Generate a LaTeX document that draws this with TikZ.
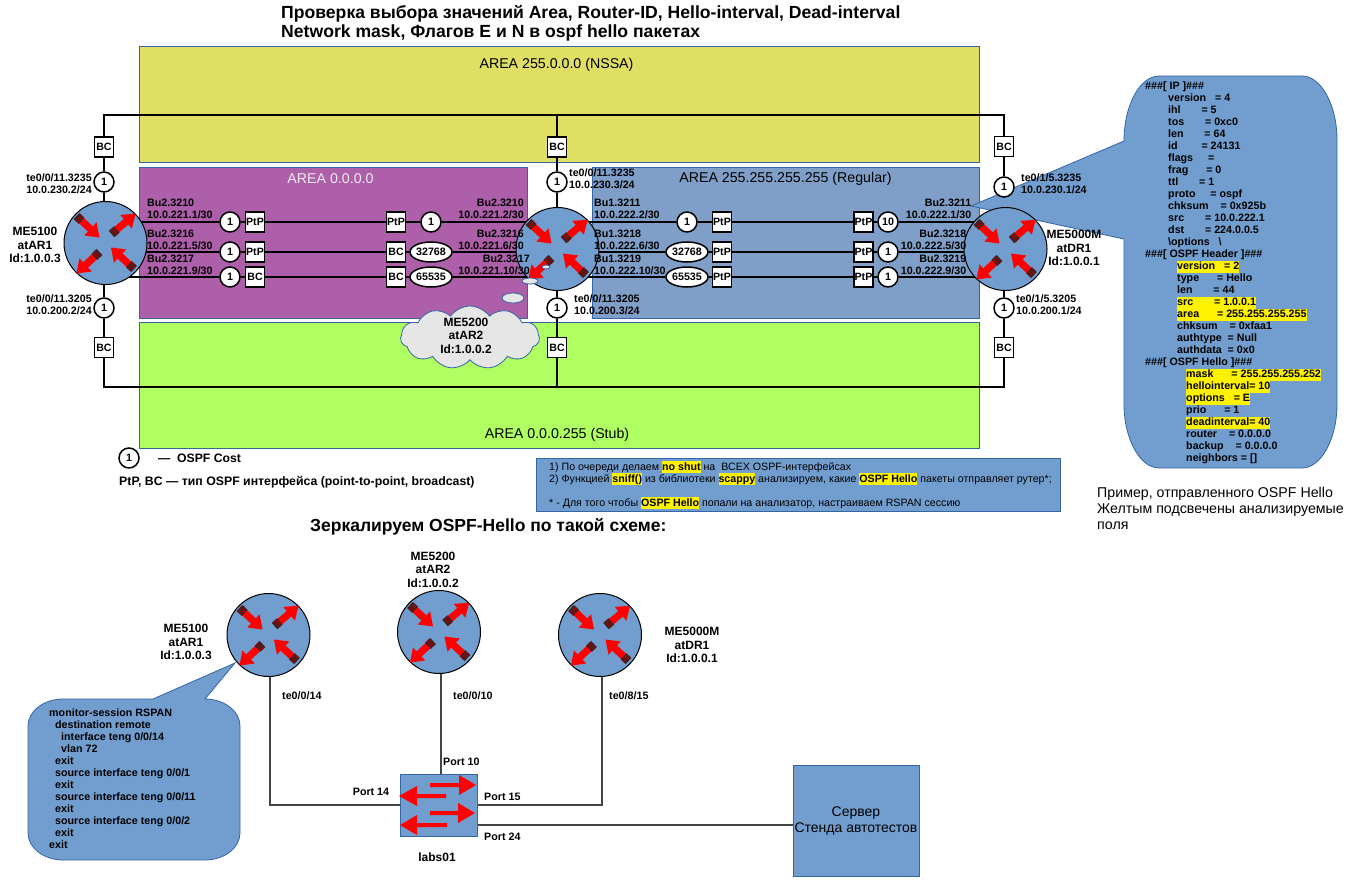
\documentclass[tikz,border=0pt]{standalone}
\usepackage{fontspec}
\setmainfont{Liberation Sans}
\usetikzlibrary{shapes.symbols,shapes.geometric}
\definecolor{nssa}{HTML}{DFDF64}
\definecolor{purp}{HTML}{AD5FA9}
\definecolor{regu}{HTML}{809FC8}
\definecolor{stub}{HTML}{AFFF62}
\definecolor{call}{HTML}{719ECF}
\definecolor{edge}{HTML}{3465A4}
\definecolor{lowl}{HTML}{444444}
\definecolor{cloudf}{HTML}{E6E6E6}
\newcommand\fsz[1]{\fontsize{#1}{12}\selectfont}
\newcommand\hlt[1]{{\setlength{\fboxsep}{0pt}\colorbox{yellow}{\rule[-3pt]{0pt}{12pt}#1}}}
\newcommand\rarrowshape{%
  \fill[red] (6,-3.6)--(19,-3.6)--(19,-9)--(31.5,0)--(19,9)--(19,3.6)--(6,3.6)--cycle;
  \fill[black!85] (0,-4.2) rectangle (7,4.2);
  \draw[red!70!black,line width=.5pt] (1.5,-4.2)--(1.5,4.2) (3,-4.2)--(3,4.2) (4.5,-4.2)--(4.5,4.2) (6,-4.2)--(6,4.2);
}
\tikzset{
  x=1pt,y=-1pt,
  routericon/.pic={
    \begin{scope}[shift={(-29,-27)},rotate=-43]\rarrowshape\end{scope}
    \begin{scope}[shift={(6,-9)},rotate=40]\rarrowshape\end{scope}
    \begin{scope}[shift={(-6,9)},rotate=-137]\rarrowshape\end{scope}
    \begin{scope}[shift={(28.5,26)},rotate=137]\rarrowshape\end{scope}
  },
  areabox/.style={draw=edge,line width=.8pt},
  arealab/.style={font=\fsz{14.2},inner sep=0pt},
  linkline/.style={draw=black,line width=1.3pt},
  lowlink/.style={draw=lowl,line width=1.1pt},
  routerc/.style={circle,draw=black,line width=1pt,fill=call,minimum size=83pt,inner sep=0pt},
  costc/.style={circle,draw=black,line width=1.5pt,fill=white,minimum size=20pt,inner sep=0pt,font=\bfseries\fsz{10.7}},
  costw/.style={ellipse,draw=black,line width=1.5pt,fill=white,minimum width=41pt,minimum height=20pt,inner sep=0pt,font=\bfseries\fsz{10.7}},
  tbox/.style={rectangle,draw=black,line width=1.3pt,fill=white,minimum width=19pt,minimum height=20pt,inner sep=0pt,font=\bfseries\fsz{10.6}},
  lab/.style={font=\bfseries\fsz{10.7},inner sep=0pt,align=left},
  labr/.style={font=\bfseries\fsz{10.7},inner sep=0pt,align=right},
  rname/.style={font=\bfseries\fontsize{12}{13.5}\selectfont,inner sep=0pt,align=center},
  calloutbody/.style={draw=edge,line width=.8pt,fill=call},
  switcharrow/.style={fill=red},
}
\pgfdeclarelayer{bg}
\pgfdeclarelayer{links}
\pgfsetlayers{bg,links,main}
\begin{document}
\begin{tikzpicture}
\useasboundingbox (0,0) rectangle (1359,880);

% ---------- title
\node[anchor=north west,inner sep=0pt,font=\bfseries\fontsize{17.6}{19}\selectfont,align=left] (title) at (281,5)
  {Проверка выбора значений Area, Router-ID, Hello-interval, Dead-interval\\Network mask, Флагов E и N в ospf hello пакетах};

% ---------- areas
\begin{pgfonlayer}{bg}
\fill[white] (0,0) rectangle (1359,880);
\path[areabox,fill=nssa] (139,46) rectangle (979,162);
\path[areabox,fill=purp] (139,167) rectangle (527,318);
\path[areabox,fill=regu] (592,167) rectangle (979,318);
\path[areabox,fill=stub] (139,322) rectangle (979,448);
\end{pgfonlayer}
\node[arealab] (a1) at (556.5,64.5) {AREA 255.0.0.0 (NSSA)};
\node[arealab,text=white!92!black] (a2) at (330.5,179) {AREA 0.0.0.0};
\node[arealab] (a3) at (785.5,179) {AREA 255.255.255.255 (Regular)};
\node[arealab] (a4) at (557,435) {AREA 0.0.0.255 (Stub)};

% ---------- routers
\node[routerc] (r1) at (105.5,243) {};
\node[routerc] (r2) at (557.5,249) {};
\node[routerc] (r3) at (1005.5,249) {};
\pic at (r1) {routericon};
\pic at (r2) {routericon};
\pic at (r3) {routericon};

% ---------- bus coordinates
\coordinate (tl) at (104,115);
\coordinate (tm) at (557,115);
\coordinate (tr) at (1004,115);
\coordinate (bl) at (104,387);
\coordinate (bm) at (557,387);
\coordinate (br) at (1004,387);

% ---------- vertical stacks
\node[tbox] (b1t) at (104,147) {BC};
\node[costc] (k1t) at (104,182) {1};
\node[costc] (k1b) at (104,308) {1};
\node[tbox] (b1b) at (104,347.5) {BC};
\node[tbox] (b2t) at (557,147) {BC};
\node[costc] (k2t) at (557,182) {1};
\node[costc] (k2b) at (557,308) {1};
\node[tbox] (b2b) at (557,347.5) {BC};
\node[tbox] (b3t) at (1004,146.5) {BC};
\node[costc] (k3t) at (1004,187) {1};
\node[costc] (k3b) at (1004,308) {1};
\node[tbox] (b3b) at (1004,347.5) {BC};

% ---------- horizontal link elements R1-R2
\node[costc] (c11) at (230,222) {1};
\node[tbox] (p11) at (255,222) {PtP};
\node[tbox] (p12) at (396,222) {PtP};
\node[costc] (c12) at (431,222) {1};
\node[costc] (c21) at (230,252) {1};
\node[tbox] (p21) at (255,252) {PtP};
\node[tbox] (p22) at (396,252) {BC};
\node[costw] (c22) at (431,252) {32768};
\node[costc] (c31) at (230,277) {1};
\node[tbox] (p31) at (255,277) {BC};
\node[tbox] (p32) at (396,277) {BC};
\node[costw] (c32) at (431,277) {65535};
% R2-R3
\node[costc] (d11) at (687,222) {1};
\node[tbox] (q11) at (722,222) {PtP};
\node[tbox] (q12) at (863.5,222) {PtP};
\node[costc] (d12) at (888,222) {10};
\node[costw] (d21) at (687,252) {32768};
\node[tbox] (q21) at (722,252) {PtP};
\node[tbox] (q22) at (863.5,252) {PtP};
\node[costc] (d22) at (888,252) {1};
\node[costw] (d31) at (687,277) {65535};
\node[tbox] (q31) at (722,277) {PtP};
\node[tbox] (q32) at (863.5,277) {PtP};
\node[costc] (d32) at (888,277) {1};

\begin{pgfonlayer}{links}
\draw[linkline] (b1t) -- (tl) -- (tr) -- (b3t);
\draw[linkline] (tm) -- (b2t);
\draw[linkline] (b1b) -- (bl) -- (br) -- (b3b);
\draw[linkline] (bm) -- (b2b);
\draw[linkline] (b1t) -- (k1t) -- (k1t |- r1.center) -- (k1b) -- (b1b);
\draw[linkline] (b2t) -- (k2t) -- (k2t |- r2.center) -- (k2b) -- (b2b);
\draw[linkline] (b3t) -- (k3t) -- (k3t |- r3.center) -- (k3b) -- (b3b);
\draw[linkline] (r1.center |- c11) -- (c11) -- (p11) -- (p12) -- (c12) -- (r2.center |- c12);
\draw[linkline] (r1.center |- c21) -- (c21) -- (p21) -- (p22) -- (c22) -- (r2.center |- c22);
\draw[linkline] (r1.center |- c31) -- (c31) -- (p31) -- (p32) -- (c32) -- (r2.center |- c32);
\draw[linkline] (r2.center |- d11) -- (d11) -- (q11) -- (q12) -- (d12) -- (r3.center |- d12);
\draw[linkline] (r2.center |- d21) -- (d21) -- (q21) -- (q22) -- (d22) -- (r3.center |- d22);
\draw[linkline] (r2.center |- d31) -- (d31) -- (q31) -- (q32) -- (d32) -- (r3.center |- d32);
% packet callout
\path[calloutbody] (1159,76) -- (1302,76) .. controls (1321,76) and (1337,105) .. (1337,140) -- (1337,404)
  .. controls (1337,439) and (1321,468) .. (1302,468) -- (1159,468)
  .. controls (1140,468) and (1124,439) .. (1124,404) -- (1124,239) -- (971,206) -- (1124,141)
  .. controls (1124,105) and (1140,76) .. (1159,76) -- cycle;
% rspan callout
\path[calloutbody] (63,699) -- (153,699) -- (235,663) -- (205,699)
  .. controls (224,699) and (240,711) .. (240,726) -- (240,833)
  .. controls (240,848) and (224,860) .. (205,860) -- (63,860)
  .. controls (44,860) and (28,848) .. (28,833) -- (28,726)
  .. controls (28,711) and (44,699) .. (63,699) -- cycle;
\end{pgfonlayer}

% ---------- router names
\node[rname] (n1) at (35,245) {ME5100\\atAR1\\Id:1.0.0.3};
\node[rname] (n3) at (1074,248) {ME5000M\\atDR1\\Id:1.0.0.1};

% ---------- interface labels
\node[labr,anchor=east] (i1) at (92,184) {te0/0/11.3235\\10.0.230.2/24};
\node[labr,anchor=east] (i2) at (92,305) {te0/0/11.3205\\10.0.200.2/24};
\node[lab,anchor=west] (i3) at (569,179) {te0/0/11.3235\\10.0.230.3/24};
\node[lab,anchor=west] (i4) at (574,305) {te0/0/11.3205\\10.0.200.3/24};
\node[lab,anchor=west] (i5) at (1021,184) {te0/1/5.3235\\10.0.230.1/24};
\node[lab,anchor=west] (i6) at (1016,305) {te0/1/5.3205\\10.0.200.1/24};

\node[lab,anchor=west] (u11) at (147,209) {Bu2.3210\\10.0.221.1/30};
\node[lab,anchor=west] (u12) at (147,240) {Bu2.3216\\10.0.221.5/30};
\node[lab,anchor=west] (u13) at (147,265) {Bu2.3217\\10.0.221.9/30};
\node[labr,anchor=east] (u21) at (524,209) {Bu2.3210\\10.0.221.2/30};
\node[labr,anchor=east] (u22) at (524,240) {Bu2.3216\\10.0.221.6/30};
\node[labr,anchor=east] (u23) at (530,265) {Bu2.3217\\10.0.221.10/30};
\node[lab,anchor=west] (u31) at (594,209) {Bu1.3211\\10.0.222.2/30};
\node[lab,anchor=west] (u32) at (594,240) {Bu1.3218\\10.0.222.6/30};
\node[lab,anchor=west] (u33) at (594,265) {Bu1.3219\\10.0.222.10/30};
\node[labr,anchor=east] (u41) at (971.5,209) {Bu2.3211\\10.0.222.1/30};
\node[labr,anchor=east] (u42) at (966.5,240) {Bu2.3218\\10.0.222.5/30};
\node[labr,anchor=east] (u43) at (966.5,265) {Bu2.3219\\10.0.222.9/30};

% ---------- cloud
\node[ellipse,draw=edge,line width=.8pt,fill=cloudf,minimum width=8pt,minimum height=4pt,inner sep=0pt] (th3) at (546,267) {};
\node[ellipse,draw=edge,line width=.8pt,fill=cloudf,minimum width=16pt,minimum height=6pt,inner sep=0pt] (th2) at (530,281) {};
\node[ellipse,draw=edge,line width=.8pt,fill=cloudf,minimum width=22pt,minimum height=10pt,inner sep=0pt] (th1) at (513,298) {};
\node[cloud,cloud puffs=11,cloud puff arc=110,aspect=2.3,draw=edge,line width=.8pt,fill=cloudf,minimum width=139pt,minimum height=63pt,inner sep=0pt] (cl) at (470,337.5) {};
\node[rname] (n2) at (466,335.5) {ME5200\\atAR2\\Id:1.0.0.2};

% ---------- packet dump
\node[lab,anchor=north west] (dump) at (1145,82) {%
\#\#\#[ IP ]\#\#\#\\
\hspace*{23pt}version~~~= 4\\
\hspace*{23pt}ihl~~~~~~~= 5\\
\hspace*{23pt}tos~~~~~~~= 0xc0\\
\hspace*{23pt}len~~~~~~~= 64\\
\hspace*{23pt}id~~~~~~~~= 24131\\
\hspace*{23pt}flags~~~~~= \\
\hspace*{23pt}frag~~~~~~= 0\\
\hspace*{23pt}ttl~~~~~~~= 1\\
\hspace*{23pt}proto~~~~~= ospf\\
\hspace*{23pt}chksum~~~~= 0x925b\\
\hspace*{23pt}src~~~~~~~= 10.0.222.1\\
\hspace*{23pt}dst~~~~~~~= 224.0.0.5\\
\hspace*{23pt}\textbackslash options~~~\textbackslash\\
\#\#\#[ OSPF Header ]\#\#\#\\
\hspace*{32pt}\hlt{version~~~= 2}\\
\hspace*{32pt}type~~~~~~= Hello\\
\hspace*{32pt}len~~~~~~~= 44\\
\hspace*{32pt}\hlt{src~~~~~~~= 1.0.0.1}\\
\hspace*{32pt}\hlt{area~~~~~~= 255.255.255.255}\\
\hspace*{32pt}chksum~~~~= 0xfaa1\\
\hspace*{32pt}authtype~~= Null\\
\hspace*{32pt}authdata~~= 0x0\\
\#\#\#[ OSPF Hello ]\#\#\#\\
\hspace*{41pt}\hlt{mask~~~~~~= 255.255.255.252}\\
\hspace*{41pt}\hlt{hellointerval= 10}\\
\hspace*{41pt}\hlt{options~~~= E}\\
\hspace*{41pt}prio~~~~~~= 1\\
\hspace*{41pt}\hlt{deadinterval= 40}\\
\hspace*{41pt}router~~~~= 0.0.0.0\\
\hspace*{41pt}backup~~~~= 0.0.0.0\\
\hspace*{41pt}neighbors = []};

\node[anchor=north west,inner sep=0pt,align=left,font=\fontsize{14.2}{16}\selectfont] (expl) at (1097,487)
  {Пример, отправленного OSPF Hello\\Желтым подсвечены анализируемые\\поля};

% ---------- legend
\node[costc] (lg1) at (129,458) {1};
\node[anchor=west,inner sep=0pt,font=\bfseries\fsz{12.2}] (lg2) at (158,458) {—~~OSPF Cost};
\node[anchor=west,inner sep=0pt,font=\bfseries\fsz{12.3}] (lg3) at (119,482) {PtP, BC — тип OSPF интерфейса (point-to-point, broadcast)};

% ---------- note
\node[rectangle,draw=edge,line width=.8pt,fill=call,minimum width=524pt,minimum height=53pt,inner sep=0pt] (note) at (798,484.5) {};
\node[anchor=north west,inner sep=0pt,align=left,font=\fontsize{10.65}{12}\selectfont] (notet) at (549,461) {%
1) По очереди делаем \hlt{\bfseries no shut} на~~ВСЕХ OSPF-интерфейсах\\
2) Функцией \hlt{\bfseries sniff()} из библиотеки \hlt{\bfseries scappy} анализируем, какие \hlt{\bfseries OSPF Hello} пакеты отправляет рутер*;\\
~\\
* - Для того чтобы \hlt{\bfseries OSPF Hello} попали на анализатор, настраиваем RSPAN сессию};

% ---------- lower heading
\node[anchor=west,inner sep=0pt,font=\bfseries\fontsize{17.5}{19}\selectfont] (head2) at (310,527) {Зеркалируем OSPF-Hello по такой схеме:};

% ---------- lower routers
\node[routerc] (l1) at (268.5,635) {};
\node[routerc] (l2) at (439,632) {};
\node[routerc] (l3) at (600,635) {};
\pic at (l1) {routericon};
\pic at (l2) {routericon};
\pic at (l3) {routericon};
\node[rname] (m1) at (186,642) {ME5100\\atAR1\\Id:1.0.0.3};
\node[rname] (m2) at (433,569.5) {ME5200\\atAR2\\Id:1.0.0.2};
\node[rname] (m3) at (692,645) {ME5000M\\atDR1\\Id:1.0.0.1};

% ---------- switch and server
\node[rectangle,draw=edge,line width=.8pt,fill=call,minimum width=77pt,minimum height=62pt,inner sep=0pt] (sw) at (438.5,805) {};
\fill[switcharrow] (430,783)--(459,783)--(459,775)--(476,785)--(459,795)--(459,787)--(430,787)--cycle;
\fill[switcharrow] (446,794)--(417,794)--(417,786)--(399,796)--(417,806)--(417,798)--(446,798)--cycle;
\fill[switcharrow] (430,811)--(458,811)--(458,803)--(475,813)--(458,823)--(458,815)--(430,815)--cycle;
\fill[switcharrow] (447,823)--(417,823)--(417,815)--(400,825)--(417,835)--(417,827)--(447,827)--cycle;
\node[rname] (swn) at (437,857) {labs01};
\node[rectangle,draw=edge,line width=.8pt,fill=call,minimum width=126pt,minimum height=111pt,inner sep=0pt,align=center,font=\fontsize{14}{16}\selectfont] (srv) at (856,820.5) {Сервер\\Стенда автотестов};

\coordinate (c14) at (270,805);
\coordinate (c15) at (602,805);
\coordinate (c10) at (441,774);
\coordinate (s24) at (477,825);
\begin{pgfonlayer}{links}
\draw[lowlink] (c14 |- l1.south) -- (c14) -- (sw.west);
\draw[lowlink] (c10 |- l2.south) -- (c10);
\draw[lowlink] (sw.east) -- (c15) -- (c15 |- l3.south);
\draw[lowlink] (s24) -- (srv.west |- s24);
\end{pgfonlayer}

\node[lab,anchor=west] (w1) at (282,696) {te0/0/14};
\node[lab,anchor=west] (w2) at (453,696) {te0/0/10};
\node[lab,anchor=west] (w3) at (609,696) {te0/8/15};
\node[lab,anchor=west] (w4) at (443,762) {Port 10};
\node[lab] (w5) at (371,792) {Port 14};
\node[lab,anchor=west] (w6) at (484,797) {Port 15};
\node[lab,anchor=west] (w7) at (484,837) {Port 24};

% ---------- rspan text
\node[lab,anchor=north west] (rspan) at (49,708.5) {%
monitor-session RSPAN\\
\hspace*{6pt}destination remote\\
\hspace*{12pt}interface teng 0/0/14\\
\hspace*{12pt}vlan 72\\
\hspace*{6pt}exit\\
\hspace*{6pt}source interface teng 0/0/1\\
\hspace*{6pt}exit\\
\hspace*{6pt}source interface teng 0/0/11\\
\hspace*{6pt}exit\\
\hspace*{6pt}source interface teng 0/0/2\\
\hspace*{6pt}exit\\
exit};
\end{tikzpicture}
\end{document}
